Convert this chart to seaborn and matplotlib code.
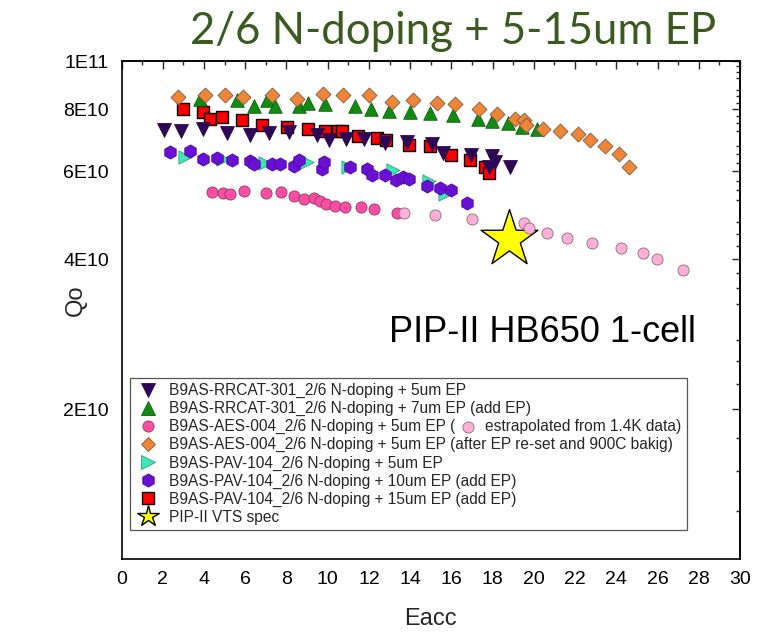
import matplotlib
matplotlib.use("Agg")
import matplotlib.pyplot as plt
import seaborn as sns
import pandas as pd
from matplotlib.ticker import FixedLocator, FixedFormatter, NullFormatter
from matplotlib.lines import Line2D

# Vertical test results: Eacc [MV/m] and Q0 [x1E10]
rrcat5_eacc = [2.08, 2.89, 3.97, 5.10, 6.23, 7.17, 8.14, 9.47, 10.08, 10.89, 11.76,
               12.78, 13.83, 15.04, 15.59, 16.93, 17.95, 18.11, 17.82, 18.84]
rrcat5_q0 = [7.27, 7.25, 7.30, 7.16, 7.10, 7.18, 7.21, 7.10, 6.94, 6.96, 6.96,
             6.86, 6.89, 6.80, 6.54, 6.49, 6.46, 6.27, 6.12, 6.12]

rrcat7_eacc = [3.81, 5.58, 6.45, 7.06, 7.44, 8.61, 9.06, 9.89, 11.32, 12.12, 12.97,
               13.97, 14.96, 16.10, 17.30, 17.95, 18.76, 19.42, 20.15]
rrcat7_q0 = [8.37, 8.35, 8.12, 8.35, 8.12, 8.14, 8.24, 8.20, 8.13, 8.00, 7.95,
             7.89, 7.85, 7.79, 7.65, 7.58, 7.50, 7.36, 7.30]

aes5_eacc = [4.40, 4.92, 5.28, 5.93, 7.01, 7.72, 8.35, 8.84, 9.35, 9.63, 9.92,
             10.36, 10.82, 11.64, 12.23, 13.35]
aes5_q0 = [5.45, 5.44, 5.41, 5.49, 5.44, 5.45, 5.36, 5.28, 5.30, 5.24, 5.16,
           5.12, 5.09, 5.10, 5.04, 4.95]

aes_extrap_eacc = [13.70, 15.20, 16.98, 19.52, 19.78, 20.62, 21.61, 22.81, 24.22,
                   25.31, 25.96, 27.25]
aes_extrap_q0 = [4.95, 4.91, 4.81, 4.73, 4.62, 4.52, 4.41, 4.32, 4.21, 4.12, 4.01, 3.81]

aes_reset_eacc = [2.75, 4.05, 5.02, 5.91, 7.32, 8.51, 9.79, 10.72, 11.99, 13.10, 14.16,
                  15.30, 16.18, 17.35, 18.20, 19.07, 19.51, 19.63, 20.43, 21.27, 22.13,
                  22.71, 23.47, 24.15, 24.64]
aes_reset_q0 = [8.45, 8.56, 8.55, 8.45, 8.56, 8.38, 8.58, 8.53, 8.53, 8.26, 8.36,
                8.23, 8.19, 8.00, 7.82, 7.65, 7.60, 7.43, 7.29, 7.23, 7.12,
                6.94, 6.76, 6.50, 6.12]

pav5_eacc = [3.08, 4.94, 6.96, 9.02, 11.01, 13.17, 14.91, 15.69]
pav5_q0 = [6.41, 6.37, 6.25, 6.28, 6.13, 6.03, 5.73, 5.41]

pav10_eacc = [2.35, 3.30, 3.97, 4.63, 5.34, 6.23, 6.41, 7.30, 7.70, 8.37, 8.60, 9.71,
              9.81, 11.09, 11.91, 12.13, 12.78, 13.33, 13.67, 13.96, 14.80, 15.47,
              15.96, 16.74]
pav10_q0 = [6.58, 6.60, 6.35, 6.39, 6.33, 6.30, 6.21, 6.21, 6.21, 6.15, 6.33, 6.06,
            6.28, 6.12, 6.06, 5.90, 5.90, 5.77, 5.86, 5.79, 5.62, 5.56, 5.51, 5.18]

pav15_eacc = [3.00, 3.94, 4.29, 4.86, 5.86, 6.83, 8.05, 9.06, 9.89, 10.48, 10.69,
              11.47, 12.38, 12.84, 13.94, 14.96, 15.98, 16.90, 17.63, 17.82]
pav15_q0 = [8.00, 7.91, 7.66, 7.71, 7.61, 7.44, 7.38, 7.29, 7.24, 7.24, 7.22,
            7.07, 7.00, 6.93, 6.78, 6.74, 6.49, 6.33, 6.12, 5.97]

spec_eacc = [18.8]
spec_q0 = [4.4]

x_ticks = list(range(0, 31, 2))
y_ticks = [2e10, 4e10, 6e10, 8e10, 1e11]
y_tick_labels = ["2E10", "4E10", "6E10", "8E10", "1E11"]

labels = [
    "B9AS-RRCAT-301_2/6 N-doping + 5um EP",
    "B9AS-RRCAT-301_2/6 N-doping + 7um EP (add EP)",
    "B9AS-AES-004_2/6 N-doping + 5um EP (",
    "B9AS-AES-004_2/6 N-doping + 5um EP (after EP re-set and 900C bakig)",
    "B9AS-PAV-104_2/6 N-doping + 5um EP",
    "B9AS-PAV-104_2/6 N-doping + 10um EP (add EP)",
    "B9AS-PAV-104_2/6 N-doping + 15um EP (add EP)",
    "PIP-II VTS spec",
]
extrap_note = "estrapolated from 1.4K data)"
gap = " " * 7

sns.set_style("white")
plt.rcParams["font.family"] = ["Liberation Sans", "DejaVu Sans"]

fig = plt.figure(figsize=(7.77, 6.36), dpi=100)
W, H = 777, 636
ax = fig.add_axes([121.5 / W, 1 - 559 / H, (740 - 121.5) / W, (559 - 61) / H])

# (eacc, q0, marker, size, face, edge, lw, z, legend index)
series = [
    (spec_eacc, spec_q0, "*", 1850, "#ffff00", "black", 1.0, 2, 7),
    (pav15_eacc, pav15_q0, "s", 64, "#ff0000", "black", 1.0, 3, 6),
    (rrcat5_eacc, rrcat5_q0, "v", 100, "#2e0854", "#2e0854", 0.6, 4, 0),
    (rrcat7_eacc, rrcat7_q0, "^", 95, "#118c11", "#0b5e0b", 0.6, 3, 1),
    (aes_reset_eacc, aes_reset_q0, "D", 58, "#ef8535", "#7a5a40", 0.6, 4, 3),
    (pav5_eacc, pav5_q0, ">", 90, "#3de8b5", "#2aa080", 0.6, 3, 4),
    (pav10_eacc, pav10_q0, "h", 90, "#6a0fd6", "#4a0a96", 0.6, 4, 5),
    (aes5_eacc, aes5_q0, "o", 64, "#ff4da6", "#8a3a60", 0.6, 3, 2),
    (aes_extrap_eacc, aes_extrap_q0, "o", 64, "#ffb0d8", "#8a6a7a", 0.6, 4, None),
]

legend_handles = [None] * 8
for eacc, q0, mk, s, face, ec, lw, z, li in series:
    df = pd.DataFrame({"Eacc": eacc, "Qo": [q * 1e10 for q in q0]})
    sns.scatterplot(data=df, x="Eacc", y="Qo", marker=mk, s=s, color=face,
                    edgecolor=ec, linewidth=lw, zorder=z, ax=ax, legend=False)
    if li is not None:
        ms = 16 if mk == "*" else s ** 0.5
        legend_handles[li] = Line2D([], [], linestyle="none", marker=mk, markersize=ms,
                                    markerfacecolor=face, markeredgecolor=ec,
                                    markeredgewidth=lw)

ax.set_yscale("log")
ax.set_xlim(0, 30)
ax.set_ylim(1e10, 1e11)

ax.xaxis.set_major_locator(FixedLocator(x_ticks))
ax.xaxis.set_minor_locator(FixedLocator(list(range(1, 30, 2))))
ax.yaxis.set_major_locator(FixedLocator(y_ticks))
ax.yaxis.set_major_formatter(FixedFormatter(y_tick_labels))
y_minor = [1e10 + 2.5e9 * k for k in range(1, 36) if k % 4 != 0]
ax.yaxis.set_minor_locator(FixedLocator(y_minor))
ax.yaxis.set_minor_formatter(NullFormatter())

for sp in ax.spines.values():
    sp.set_linewidth(1.2)
    sp.set_color("black")
ax.tick_params(axis="both", which="major", direction="out", length=6, width=1.0,
               labelsize=14, colors="black", pad=3)
ax.tick_params(axis="both", which="minor", direction="out", length=3, width=1.0)

# inward ticks on the top and right edges
top = ax.secondary_xaxis("top")
top.xaxis.set_major_locator(FixedLocator(x_ticks))
top.xaxis.set_minor_locator(FixedLocator(list(range(1, 30, 2))))
top.xaxis.set_major_formatter(NullFormatter())
top.tick_params(axis="x", which="major", direction="in", length=6, width=1.0)
top.tick_params(axis="x", which="minor", direction="in", length=3, width=1.0)
top.spines["top"].set_linewidth(1.2)

right = ax.secondary_yaxis("right")
right.yaxis.set_major_locator(FixedLocator(y_ticks))
right.yaxis.set_minor_locator(FixedLocator(y_minor))
right.yaxis.set_major_formatter(NullFormatter())
right.yaxis.set_minor_formatter(NullFormatter())
right.tick_params(axis="y", which="major", direction="in", length=6, width=1.0)
right.tick_params(axis="y", which="minor", direction="in", length=3, width=1.0)
right.spines["right"].set_linewidth(1.2)

ax.set_xlabel("Eacc", fontsize=17)
ax.xaxis.set_label_coords(0.5, -(619 - 559) / 498, transform=ax.transAxes)
ax.xaxis.label.set_va("center")
ax.set_ylabel("Qo", fontsize=17)
ax.yaxis.set_label_coords(-(121.5 - 76) / 618.5, (559 - 300) / 498, transform=ax.transAxes)
ax.yaxis.label.set_va("center")

ax.text(0.68, 0.454, "PIP-II HB650 1-cell", transform=ax.transAxes,
        ha="center", va="center", fontsize=26, color="black")

fig.text(453 / W, 1 - 31 / H, "2/6 N-doping + 5-15um EP", ha="center", va="center",
         fontsize=31.5, color="#3a5a20", family=["Lato", "DejaVu Sans"])

legend_labels = list(labels)
legend_labels[2] = labels[2] + gap + extrap_note
fs = 11.2
leg = ax.legend(legend_handles, legend_labels, loc="lower left",
                bbox_to_anchor=(0.0137, 0.058), borderaxespad=0, frameon=True,
                fancybox=False, edgecolor="#555555", fontsize=fs, labelspacing=0.19,
                handletextpad=0.55, borderpad=0.35, handlelength=1.6, framealpha=1)
leg.get_frame().set_linewidth(0.9)
leg.set_zorder(10)

# light pink marker for extrapolated points inside the third legend row
fig.canvas.draw()
renderer = fig.canvas.get_renderer()
txt = leg.get_texts()[2]
bb = txt.get_window_extent(renderer)
probe = fig.text(0, 0, labels[2], fontproperties=txt.get_fontproperties())
pw = probe.get_window_extent(renderer).width
probe_gap = fig.text(0, 0, gap, fontproperties=txt.get_fontproperties())
gw = probe_gap.get_window_extent(renderer).width
probe.remove()
probe_gap.remove()
mx = (bb.x0 + pw + 0.42 * gw) / fig.bbox.width
my = (bb.y0 + bb.y1) / 2 / fig.bbox.height
fig.add_artist(Line2D([mx], [my], transform=fig.transFigure, linestyle="none",
                      marker="o", markersize=8, markerfacecolor="#ffb0d8",
                      markeredgecolor="#8a6a7a", markeredgewidth=0.6, zorder=20))

fig.savefig("out.png", dpi=100)
